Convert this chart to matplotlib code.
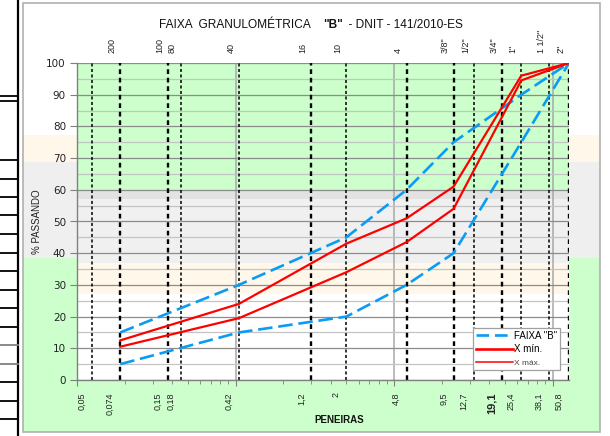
import matplotlib
matplotlib.use("Agg")
import matplotlib.pyplot as plt
from matplotlib.lines import Line2D
from matplotlib.patches import Rectangle
from matplotlib.transforms import offset_copy
from matplotlib.ticker import FixedLocator, NullFormatter
from matplotlib.offsetbox import TextArea, HPacker, AnnotationBbox

# ---------------- DATA ----------------
peneiras_mm = [0.05, 0.075, 0.15, 0.18, 0.42, 1.2, 2.0, 4.8, 9.5, 12.7, 19.1, 25.4, 38.1, 50.8]
rotulos_mm = ["0,05", "0,074", "0,15", "0,18", "0,42", "1,2", "2", "4,8", "9,5",
              "12,7", "19,1", "25,4", "38,1", "50,8"]
rotulos_peneira = ["", "200", "100", "80", "40", "16", "10", "4", '3/8"', '1/2"',
                   '3/4"', '1"', '1 1/2"', '2"']

faixa_x = [0.075, 0.42, 2.0, 4.8, 9.5, 25.4, 50.8]
faixa_inf = [5, 15, 20, 30, 40, 75, 100]
faixa_sup = [15, 30, 45, 60, 75, 90, 100]
x_min = [10.5, 19.5, 34, 43.5, 54, 94.5, 100]
x_max = [12.5, 24, 43, 51, 61, 96, 100]

titulo_partes = ["FAIXA  GRANULOMÉTRICA    ", '"B"', "  - DNIT - 141/2010-ES"]

# ---------------- STYLE ----------------
W, H = 610, 436
fig = plt.figure(figsize=(W / 100, H / 100), dpi=100)
fig.patch.set_facecolor("white")

def fx(px):
    return px / W

def fy(py):
    return 1 - py / H

# chart area background bands (figure level)
cx0, cx1, cy0, cy1 = 23, 600, 3, 432
for top, bot, col in [(135, 162, "#fff8ea"), (162, 258, "#efefef"), (258, cy1, "#ccffcc")]:
    fig.patches.append(Rectangle((fx(cx0), fy(bot)), fx(cx1 - cx0), (bot - top) / H,
                                 transform=fig.transFigure, facecolor=col,
                                 edgecolor="none", zorder=-5))
fig.patches.append(Rectangle((fx(cx0), fy(cy1)), fx(cx1 - cx0), (cy1 - cy0) / H,
                             transform=fig.transFigure, facecolor="none",
                             edgecolor="#b0b0b0", lw=1.2, zorder=-4))

# spreadsheet cells at left
fig.add_artist(Line2D([fx(17.5), fx(17.5)], [0, 1], transform=fig.transFigure,
                      color="black", lw=1.6))
for k in range(0, 16):
    yy = 160 + 18.5 * k
    fig.add_artist(Line2D([0, fx(17.5)], [fy(yy), fy(yy)], transform=fig.transFigure,
                          color="black" if k not in (10, 11) else "#808080", lw=1.3))
for yy in (96, 101):
    fig.add_artist(Line2D([0, fx(17.5)], [fy(yy), fy(yy)], transform=fig.transFigure,
                          color="black", lw=1.3))

ax = fig.add_axes([fx(77), fy(380), fx(569 - 77), (380 - 63) / H])
ax.set_facecolor("white")
ax.set_xscale("log")
ax.set_xlim(0.04, 50.8)
ax.set_ylim(0, 100)

# plot area bands
for lo, hi, col in [(60, 100, "#ccffcc"), (57, 60, "#e2e2e2"), (37, 57, "#f0f0f0"),
                    (27, 37, "#fff8ea")]:
    ax.axhspan(lo, hi, color=col, zorder=0, lw=0)

ax.set_axisbelow(True)
ax.set_yticks(range(0, 101, 10))
ax.set_yticks(range(5, 100, 10), minor=True)
ax.xaxis.set_major_locator(FixedLocator([0.04, 0.4, 4, 40]))
ax.xaxis.set_minor_locator(FixedLocator([0.04 * k * 10 ** j for j in range(4) for k in range(2, 10)]))
ax.xaxis.set_major_formatter(NullFormatter())
ax.xaxis.set_minor_formatter(NullFormatter())
ax.grid(which="major", axis="y", color="#8c8c8c", lw=0.9)
ax.grid(which="minor", axis="y", color="#c4c4c4", lw=0.9)
ax.grid(which="major", axis="x", color="#a8a8a8", lw=1.1)
ax.tick_params(axis="y", which="major", direction="out", length=5, color="#808080",
               labelsize=7.5, pad=3, labelcolor="#222222")
ax.tick_params(axis="y", which="minor", length=0)
ax.tick_params(axis="x", which="major", direction="out", length=4, color="#808080")
ax.tick_params(axis="x", which="minor", direction="out", length=3, color="#808080")
for s in ["top", "right"]:
    ax.spines[s].set_visible(False)
for s in ["left", "bottom"]:
    ax.spines[s].set_color("#808080")
    ax.spines[s].set_linewidth(1.0)

# sieve dashed lines
pesadas = {0.075, 0.15, 1.2, 4.8, 9.5, 19.1, 50.8}
for xv in peneiras_mm:
    lw = 1.7 if xv in pesadas else 1.1
    ax.vlines(xv, 0, 100, colors="black", linestyles=(0, (2, 1.6)), linewidth=lw, zorder=2)

# limits and curves
azul = "#0a9cf5"
ax.plot(faixa_x, faixa_sup, color=azul, lw=1.9, linestyle=(0, (5.5, 2.2)), zorder=3)
ax.plot(faixa_x, faixa_inf, color=azul, lw=1.9, linestyle=(0, (5.5, 2.2)), zorder=3)
ax.plot(faixa_x, x_min, color="#ff0000", lw=1.6, zorder=4)
ax.plot(faixa_x, x_max, color="#ff0000", lw=1.6, zorder=4)

# bottom labels (mm)
tb = offset_copy(ax.get_xaxis_transform(), fig=fig, x=-10, y=-12, units="dots")
for xv, lab in zip(peneiras_mm, rotulos_mm):
    bold = lab == "19,1"
    ax.text(xv, 0, lab, transform=tb, rotation=90, ha="center", va="top",
            fontsize=8 if bold else 6.5, fontweight="bold" if bold else "normal",
            family="Liberation Sans", color="#222222")

# top labels (sieve numbers)
tt = offset_copy(ax.get_xaxis_transform(), fig=fig, x=-8, y=10, units="dots")
for xv, lab in zip(peneiras_mm, rotulos_peneira):
    if lab:
        ax.text(xv, 1, lab, transform=tt, rotation=90, ha="center", va="bottom",
                fontsize=6.5, family="Liberation Sans", color="#222222")

# title (mixed weight)
tprops = dict(fontsize=8.6, family="Liberation Sans", color="#111111")
partes = [TextArea(titulo_partes[0], textprops=tprops),
          TextArea(titulo_partes[1], textprops=dict(tprops, fontweight="bold")),
          TextArea(titulo_partes[2], textprops=tprops)]
pack = HPacker(children=partes, align="baseline", pad=0, sep=0)
fig.add_artist(AnnotationBbox(pack, (fx(311), fy(25)), xycoords="figure fraction",
                              frameon=False, box_alignment=(0.5, 0.5), pad=0))

fig.text(fx(37), fy(222), "% PASSANDO", rotation=90, ha="center", va="center",
         fontsize=7, family="Liberation Sans", color="#222222")
fig.text(fx(339), fy(420), "PENEIRAS", ha="center", va="center", fontsize=7,
         fontweight="bold", family="Liberation Sans", color="#111111")

# legend
handles = [Line2D([], [], color=azul, lw=1.9, linestyle=(0, (4.8, 2.2))),
           Line2D([], [], color="#ff0000", lw=1.9),
           Line2D([], [], color="#ff0000", lw=1.1)]
leg = ax.legend(handles, ['FAIXA "B"', "X mín.", "X máx."], loc="lower right",
                bbox_to_anchor=(0.992, 0.016), handlelength=3.8,
                handletextpad=0.1, borderpad=0.3, labelspacing=0.4, fancybox=False,
                framealpha=1, facecolor="white", edgecolor="#a0a0a0",
                prop={"family": "Liberation Sans", "size": 7})
leg.get_frame().set_linewidth(0.9)
leg.get_texts()[2].set_fontsize(6)
leg.get_texts()[2].set_color("#444444")

fig.savefig("out.png", dpi=100)
